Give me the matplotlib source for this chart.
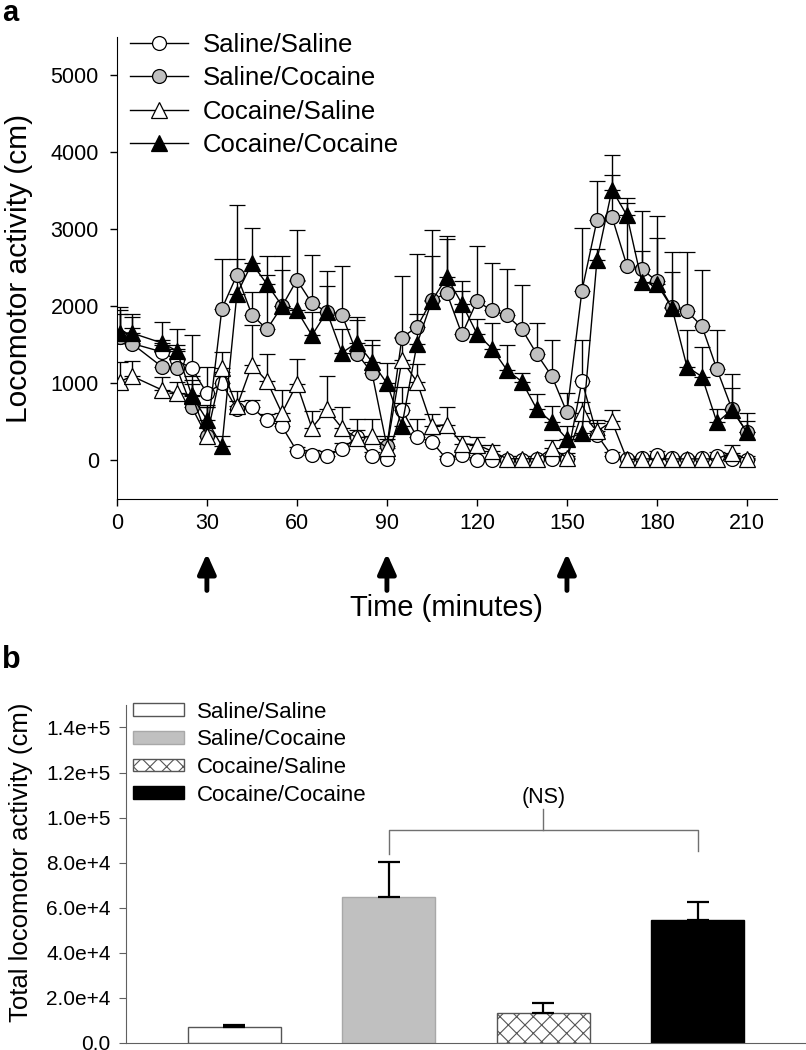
import numpy as np
import matplotlib
matplotlib.use('Agg')
import matplotlib.pyplot as plt
from matplotlib.lines import Line2D

plt.rcParams['font.family'] = ['Liberation Sans', 'DejaVu Sans']

# panel a data (minutes, cm)
times = [1, 5, 15, 20, 25, 30, 35, 40, 45, 50, 55, 60, 65, 70, 75, 80, 85, 90, 95, 100,
         105, 110, 115, 120, 125, 130, 135, 140, 145, 150, 155, 160, 165, 170, 175, 180,
         185, 190, 195, 200, 205, 210]

sal_sal = [1600, 1520, 1410, 1300, 1196, 873, 1002, 667, 688, 520, 443, 120, 77, 60, 150,
           300, 56, 13, 658, 305, 240, 13, 77, 0, 0, 0, 0, 13, 13, 13, 1032, 335, 56, 13,
           30, 77, 34, 13, 34, 56, 25, 8]
sal_sal_err = [300, 200, 150, 150, 430, 336, 150, 100, 100, 80, 80, 60, 60, 60, 80, 100, 60,
               40, 300, 232, 100, 40, 60, 20, 20, 20, 20, 20, 30, 40, 529, 150, 60, 30, 30,
               50, 30, 30, 30, 50, 50, 30]

sal_coc = [1604, 1518, 1217, 1196, 688, 314, 1970, 2408, 1892, 1703, 2000, 2344, 2042, 1930,
           1892, 1389, 1140, 185, 1596, 1733, 2086, 2171, 1638, 2068, 1948, 1883, 1703, 1380,
           1092, 623, 2206, 3118, 3165, 2528, 2485, 2326, 1991, 1939, 1742, 1183, 667, 365]
sal_coc_err = [344, 344, 280, 301, 300, 386, 645, 916, 300, 705, 658, 645, 628, 529, 636, 430,
               357, 100, 795, 946, 567, 744, 568, 718, 611, 602, 577, 404, 473, 258, 817, 507,
               537, 817, 761, 847, 718, 770, 731, 507, 456, 250]

coc_sal = [1023, 1096, 916, 873, 850, 314, 1196, 701, 1239, 1032, 615, 993, 421, 663, 421, 292,
           314, 163, 1303, 1023, 451, 464, 215, 206, 120, 22, 22, 22, 163, 34, 615, 378, 507,
           13, 20, 20, 20, 20, 20, 20, 103, 13]
coc_sal_err = [258, 198, 170, 150, 250, 400, 215, 200, 516, 357, 301, 331, 215, 439, 267, 245,
               224, 150, 300, 228, 150, 230, 100, 100, 80, 40, 40, 40, 100, 60, 150, 150, 150,
               30, 30, 30, 30, 30, 30, 40, 100, 40]

coc_coc = [1655, 1655, 1526, 1423, 839, 529, 185, 2163, 2558, 2292, 2012, 1948, 1625, 1930,
           1397, 1531, 1281, 1002, 451, 1509, 2077, 2378, 2034, 1647, 1454, 1174, 1023, 663,
           497, 280, 357, 2602, 3517, 3182, 2313, 2291, 1982, 1217, 1088, 494, 658, 365]
coc_coc_err = [335, 250, 271, 288, 200, 170, 129, 451, 464, 366, 464, 387, 301, 331, 314, 331,
               280, 267, 292, 396, 920, 494, 292, 194, 331, 323, 107, 206, 215, 163, 172, 142,
               451, 228, 408, 593, 469, 473, 387, 172, 280, 142]

injections = [30, 90, 150]

# panel b data
groups = ['Saline/Saline', 'Saline/Cocaine', 'Cocaine/Saline', 'Cocaine/Cocaine']
totals = [7100, 64600, 13300, 54600]
totals_err = [750, 15500, 4400, 7800]

fig = plt.figure(figsize=(8.06, 10.5), dpi=100)

# ---------- panel a ----------
ax = fig.add_axes([0.145, 0.5248, 0.819, 0.44])
styles = [
    (sal_sal, sal_sal_err, 'o', 'white'),
    (sal_coc, sal_coc_err, 'o', '#c0c0c0'),
    (coc_sal, coc_sal_err, '^', 'white'),
    (coc_coc, coc_coc_err, '^', 'black'),
]
handles = []
for (vals, err, mk, fc), name in zip(styles, groups):
    ax.errorbar(times, vals, yerr=[np.zeros(len(err)), err], color='black', lw=1,
                marker=mk, ms=10 if mk == 'o' else 11, mfc=fc, mec='black', mew=0.9,
                elinewidth=1, capsize=6, capthick=1)
    handles.append(Line2D([], [], color='black', lw=1, marker=mk,
                          ms=10 if mk == 'o' else 11, mfc=fc, mec='black', mew=0.9))

ax.set_xlim(0, 220)
ax.set_ylim(-500, 5500)
ax.set_xticks([0, 30, 60, 90, 120, 150, 180, 210])
ax.set_yticks([0, 1000, 2000, 3000, 4000, 5000])
ax.spines['top'].set_visible(False)
ax.spines['right'].set_visible(False)
ax.tick_params(labelsize=15.5, length=5, width=1)
ax.tick_params(axis='y', pad=8)
ax.tick_params(axis='x', pad=5)
ax.set_ylabel('Locomotor activity (cm)', fontsize=21.5)
ax.yaxis.set_label_coords(-0.127, 0.5)
ax.set_xlabel('Time (minutes)', fontsize=21)
ax.xaxis.set_label_coords(0.5, -0.205)

for t in injections:
    ax.annotate('', xy=(t, -0.118), xytext=(t, -0.198), xycoords=ax.get_xaxis_transform(),
                arrowprops=dict(arrowstyle='-|>,head_width=0.27,head_length=0.6',
                                lw=3.5, color='black', mutation_scale=20, shrinkA=0, shrinkB=0),
                annotation_clip=False)

ax.legend(handles, groups, loc='upper left', bbox_to_anchor=(0.02, 1.009), frameon=False,
          fontsize=18.5, handlelength=2.25, handletextpad=0.58, labelspacing=0.37,
          borderaxespad=0, borderpad=0)

# ---------- panel b ----------
bx = fig.add_axes([0.1563, 0.007, 0.8437, 0.3216])
pos = np.arange(len(groups))
bar_fc = ['white', '#c0c0c0', 'white', 'black']
bar_ec = ['#555555', '#a8a8a8', '#555555', 'black']
bar_hatch = [None, None, 'xx', None]
plt.rcParams['hatch.linewidth'] = 0.8
for p, v, fc, ec, h, name in zip(pos, totals, bar_fc, bar_ec, bar_hatch, groups):
    bx.bar(p, v, width=0.6, color=fc, edgecolor=ec, hatch=h, lw=1, label=name, zorder=2)
bx.errorbar(pos, totals, yerr=[np.zeros(4), totals_err], fmt='none', ecolor='black',
            elinewidth=1.6, capsize=8, capthick=1.6, zorder=3)

bx.set_xlim(-0.7, 3.7)
bx.set_ylim(0, 150000)
yt = [0, 20000, 40000, 60000, 80000, 100000, 120000, 140000]
bx.set_yticks(yt)
bx.set_yticklabels(['0.0', '2.0e+4', '4.0e+4', '6.0e+4', '8.0e+4', '1.0e+5', '1.2e+5', '1.4e+5'])
bx.set_xticks([])
for s in ['top', 'right']:
    bx.spines[s].set_visible(False)
for s in ['left', 'bottom']:
    bx.spines[s].set_color('#606060')
bx.tick_params(axis='y', labelsize=15, length=5, color='#606060', pad=6)
bx.set_ylabel('Total locomotor activity (cm)', fontsize=18.5)
bx.yaxis.set_label_coords(-0.137, 0.535)

# NS bracket between Saline/Cocaine and Cocaine/Cocaine
bx.plot([1, 1, 3, 3], [84000, 94400, 94400, 85000], color='#707070', lw=1)
bx.plot([2, 2], [94400, 104000], color='#707070', lw=1)
bx.text(2, 104300, '(NS)', ha='center', va='bottom', fontsize=15.5)

bx.legend(loc='upper left', bbox_to_anchor=(0.01, 1.01), frameon=False, fontsize=16,
          handlelength=2.3, handleheight=0.5, handletextpad=0.6, labelspacing=0.3,
          borderaxespad=0, borderpad=0)

fig.text(0.003, 1 - 21 / 1050, 'a', fontsize=21, fontweight='bold', va='baseline')
fig.text(0.003, 1 - 668 / 1050, 'b', fontsize=22, fontweight='bold', va='baseline')

fig.savefig('out.png', dpi=100)
